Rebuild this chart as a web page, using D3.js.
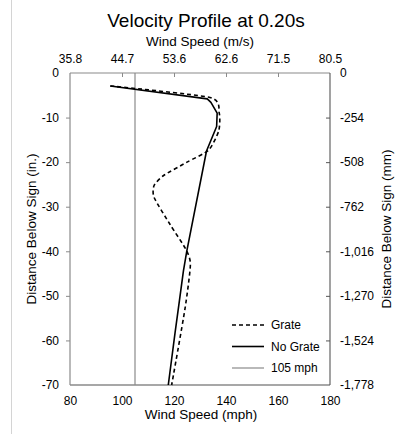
<!DOCTYPE html>
<html>
<head>
<meta charset="utf-8">
<script src="https://cdn.jsdelivr.net/npm/d3@7"></script>
<style>
  html, body { margin: 0; padding: 0; background: #fff; }
  svg { display: block; font-family: "Liberation Sans", Arial, sans-serif; }
</style>
</head>
<body>
<svg id="chart" width="401" height="436"></svg>
<script>
// ---- data ----
const grateDepth = [-2.9, -5.5, -9, -13, -17.3, -20, -23, -25.3, -28, -34, -39.5, -43, -53, -70];
const grateSpeed = [95.5, 133.8, 137.4, 137.2, 133.3, 125, 116, 112.3, 112.4, 118.5, 124.5, 126.3, 124.2, 119.1];
const noGrateDepth = [-2.9, -5.8, -6.6, -9, -12, -17.5, -40, -44.5, -51, -58.3, -70];
const noGrateSpeed = [95.5, 132.8, 134.2, 136.6, 136.4, 132.5, 124.9, 123.6, 122.1, 120.4, 117.8];
const refSpeed = 105;
const mphTicks = [80, 100, 120, 140, 160, 180];
const msTickLabels = ["35.8", "44.7", "53.6", "62.6", "71.5", "80.5"];
const inTicks = [0, -10, -20, -30, -40, -50, -60, -70];
const inTickLabels = ["0", "-10", "-20", "-30", "-40", "-50", "-60", "-70"];
const mmTickLabels = ["0", "-254", "-508", "-762", "-1,016", "-1,270", "-1,524", "-1,778"];
const legendNames = ["Grate", "No Grate", "105 mph"];

// ---- layout ----
const svg = d3.select("#chart");
const L = 70, R = 330, T = 73, B = 385;
const x = d3.scaleLinear().domain([80, 180]).range([L, R]);
const y = d3.scaleLinear().domain([0, -70]).range([T, B]);
const gray = "#8a8a8a";

// left page rule
svg.append("line").attr("x1", 11.5).attr("x2", 11.5).attr("y1", 0).attr("y2", 434)
  .attr("stroke", "#d4d4d4").attr("stroke-width", 1);

// title
svg.append("text").attr("x", 206).attr("y", 27).attr("text-anchor", "middle")
  .attr("font-size", 19).attr("fill", "#000").text("Velocity Profile at 0.20s");
svg.append("text").attr("x", 200).attr("y", 46).attr("text-anchor", "middle")
  .attr("font-size", 13.5).attr("fill", "#000").text("Wind Speed (m/s)");

// axes
function styleAxis(g, col) {
  g.select(".domain").remove();
  g.selectAll(".tick line").attr("stroke", col);
  g.selectAll(".tick text").attr("fill", "#000").attr("font-size", 12)
    .attr("font-family", "'Liberation Sans', Arial, sans-serif");
}

const gTop = svg.append("g").attr("transform", `translate(0,${T})`)
  .call(d3.axisTop(x).tickValues(mphTicks).tickSizeInner(-4).tickSizeOuter(0).tickPadding(10)
    .tickFormat((d, i) => msTickLabels[i]));
styleAxis(gTop, gray);
gTop.selectAll(".tick line").filter(d => d === 80 || d === 180).remove();

const gBottom = svg.append("g").attr("transform", `translate(0,${B})`)
  .call(d3.axisBottom(x).tickValues(mphTicks).tickSize(0).tickPadding(11)
    .tickFormat(d => String(d)));
styleAxis(gBottom, gray);

const gLeft = svg.append("g").attr("transform", `translate(${L},0)`)
  .call(d3.axisLeft(y).tickValues(inTicks).tickSize(4).tickPadding(7)
    .tickFormat((d, i) => inTickLabels[i]));
styleAxis(gLeft, gray);
gLeft.selectAll(".tick line").filter(d => d === 0 || d === -70).remove();

const gRight = svg.append("g").attr("transform", `translate(${R},0)`)
  .call(d3.axisRight(y).tickValues(inTicks).tickSizeInner(-4).tickSizeOuter(0).tickPadding(10)
    .tickFormat((d, i) => mmTickLabels[i]));
styleAxis(gRight, "#555");
gRight.selectAll(".tick line").filter(d => d === 0 || d === -70).remove();

// frame
svg.append("line").attr("x1", L).attr("x2", R).attr("y1", T).attr("y2", T).attr("stroke", gray).attr("stroke-width", 1.2);
svg.append("line").attr("x1", L).attr("x2", R).attr("y1", B).attr("y2", B).attr("stroke", gray).attr("stroke-width", 1.6);
svg.append("line").attr("x1", L).attr("x2", L).attr("y1", T).attr("y2", B).attr("stroke", gray).attr("stroke-width", 1.2);
svg.append("line").attr("x1", R).attr("x2", R).attr("y1", T).attr("y2", B).attr("stroke", "#555").attr("stroke-width", 1.1);

// axis titles
svg.append("text").attr("transform", `translate(36,${(T + B) / 2}) rotate(-90)`)
  .attr("text-anchor", "middle").attr("font-size", 13.5).text("Distance Below Sign (in.)");
svg.append("text").attr("transform", `translate(391,${(T + B) / 2}) rotate(-90)`)
  .attr("text-anchor", "middle").attr("font-size", 13.5).text("Distance Below Sign (mm)");
svg.append("text").attr("x", 201).attr("y", 419).attr("text-anchor", "middle")
  .attr("font-size", 13.5).text("Wind Speed (mph)");

// 105 mph reference line
svg.append("line").attr("x1", x(refSpeed)).attr("x2", x(refSpeed)).attr("y1", y(0)).attr("y2", y(-70))
  .attr("stroke", gray).attr("stroke-width", 1.2);

// series
const grate = grateDepth.map((d, i) => [d, grateSpeed[i]]);
const noGrate = noGrateDepth.map((d, i) => [d, noGrateSpeed[i]]);
const smooth = d3.line().x(d => x(d[1])).y(d => y(d[0])).curve(d3.curveCardinal.tension(0.35));
const straight = d3.line().x(d => x(d[1])).y(d => y(d[0])).curve(d3.curveLinear);

svg.append("path").datum(noGrate).attr("d", straight).attr("fill", "none")
  .attr("stroke", "#000").attr("stroke-width", 1.6).attr("stroke-linejoin", "round");
svg.append("path").datum(grate).attr("d", smooth).attr("fill", "none")
  .attr("stroke", "#000").attr("stroke-width", 1.6).attr("stroke-dasharray", "4,3");

// legend
const legY = [325, 346.5, 368];
const legStyles = [
  { stroke: "#000", w: 1.6, dash: "4,3" },
  { stroke: "#000", w: 1.6, dash: null },
  { stroke: gray, w: 1.2, dash: null }
];
legendNames.forEach((name, i) => {
  const s = legStyles[i];
  const ln = svg.append("line").attr("x1", 232).attr("x2", 264).attr("y1", legY[i]).attr("y2", legY[i])
    .attr("stroke", s.stroke).attr("stroke-width", s.w);
  if (s.dash) ln.attr("stroke-dasharray", s.dash);
  svg.append("text").attr("x", 271).attr("y", legY[i] + 4.3).attr("font-size", 12).text(name);
});
</script>
</body>
</html>
